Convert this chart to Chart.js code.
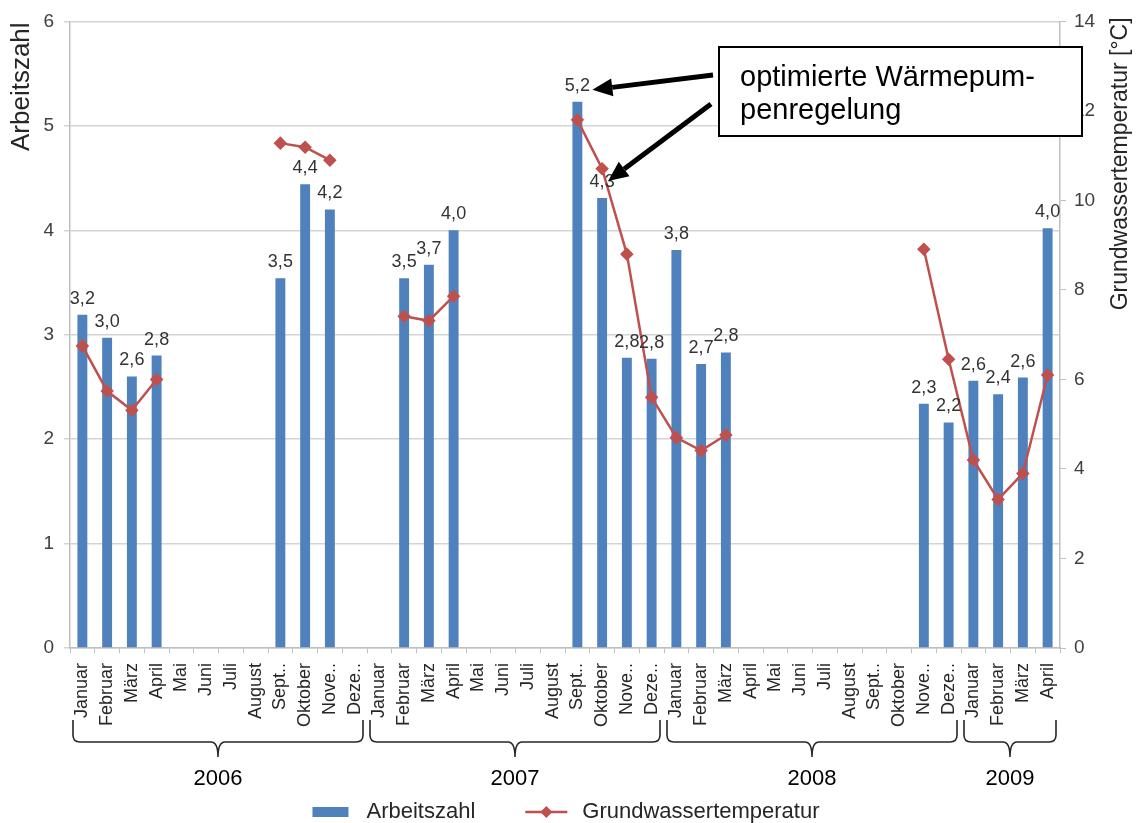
<!DOCTYPE html>
<html>
<head>
<meta charset="utf-8">
<script src="https://cdn.jsdelivr.net/npm/chart.js@4"></script>
<style>
html,body{margin:0;padding:0;background:#fff;}
canvas{display:block;}
</style>
</head>
<body>
<canvas id="c" width="1138" height="823"></canvas>
<script>
// ---- data ----
const months = ['Januar','Februar','März','April','Mai','Juni','Juli','August','Sept..','Oktober','Nove..','Deze..'];
const years = ['2006','2007','2008','2009'];
const monthsPerYear = [12,12,12,4];
const categories = [].concat(months, months, months, months.slice(0,4));

const arbeitszahl = [
  3.19, 2.97, 2.60, 2.80, null, null, null, null, 3.54, 4.44, 4.20, null,
  null, 3.54, 3.67, 4.00, null, null, null, null, 5.23, 4.31, 2.78, 2.77,
  3.81, 2.72, 2.83, null, null, null, null, null, null, null, 2.34, 2.16,
  2.56, 2.43, 2.59, 4.02
];
const grundwassertemperatur = [
  6.75, 5.74, 5.31, 6.00, null, null, null, null, 11.28, 11.19, 10.90, null,
  null, 7.41, 7.31, 7.86, null, null, null, null, 11.80, 10.71, 8.80, 5.60,
  4.70, 4.41, 4.76, null, null, null, null, null, null, null, 8.91, 6.45,
  4.20, 3.32, 3.90, 6.10
];
const leftTicks = [0,1,2,3,4,5,6];
const rightTicks = [0,2,4,6,8,10,12,14];
const seriesNames = ['Arbeitszahl','Grundwassertemperatur'];
const axisTitles = ['Arbeitszahl','Grundwassertemperatur [°C]'];
const annotationLines = ['optimierte Wärmepum-','penregelung'];
const annotatedIndices = [20, 21];

const BLUE = '#4f81bd', RED = '#c0504d';
const FONT = '"Liberation Sans", Arial, sans-serif';

function fmt(v){ return v.toFixed(1).replace('.', ','); }

function drawArrow(ctx, x0, y0, x1, y1){
  const ang = Math.atan2(y1-y0, x1-x0);
  const hl = 20, hw = 9;
  const bx = x1 - hl*Math.cos(ang), by = y1 - hl*Math.sin(ang);
  ctx.save();
  ctx.strokeStyle = '#000'; ctx.fillStyle = '#000';
  ctx.lineWidth = 5; ctx.lineCap = 'butt';
  ctx.beginPath(); ctx.moveTo(x0,y0); ctx.lineTo(bx,by); ctx.stroke();
  ctx.beginPath();
  ctx.moveTo(x1,y1);
  ctx.lineTo(bx + hw*Math.sin(ang), by - hw*Math.cos(ang));
  ctx.lineTo(bx - hw*Math.sin(ang), by + hw*Math.cos(ang));
  ctx.closePath(); ctx.fill();
  ctx.restore();
}

const extras = {
  id: 'extras',
  afterDatasetsDraw(chart){
    const ctx = chart.ctx;
    const barMeta = chart.getDatasetMeta(1);
    ctx.save();
    ctx.font = '18px ' + FONT;
    ctx.fillStyle = '#333333';
    ctx.textAlign = 'center';
    ctx.textBaseline = 'alphabetic';
    barMeta.data.forEach((el, i) => {
      const v = arbeitszahl[i];
      if (v == null) return;
      ctx.fillText(fmt(v), el.x, el.y - 11);
    });
    ctx.restore();
  },
  afterDraw(chart){
    const ctx = chart.ctx;
    const xs = chart.scales.x, yl = chart.scales.y;
    const ca = chart.chartArea;
    const W = chart.width;
    // axis titles
    ctx.save();
    ctx.fillStyle = '#262626';
    ctx.font = '26px ' + FONT;
    ctx.translate(22, ca.top + 1);
    ctx.rotate(-Math.PI/2);
    ctx.textAlign = 'right'; ctx.textBaseline = 'middle';
    ctx.fillText(axisTitles[0], 0, 0);
    ctx.restore();
    ctx.save();
    ctx.fillStyle = '#262626';
    ctx.font = '23px ' + FONT;
    ctx.translate(1121, ca.top - 4);
    ctx.rotate(-Math.PI/2);
    ctx.textAlign = 'right'; ctx.textBaseline = 'middle';
    ctx.fillText(axisTitles[1], 0, 0);
    ctx.restore();

    // year brackets
    const w = xs.getPixelForValue(1) - xs.getPixelForValue(0);
    let start = 0;
    const yTop = 720, yMid = 742, yTip = 757;
    ctx.save();
    ctx.strokeStyle = '#262626'; ctx.lineWidth = 1.6;
    ctx.fillStyle = '#000';
    ctx.font = '22px ' + FONT;
    ctx.textAlign = 'center'; ctx.textBaseline = 'middle';
    years.forEach((yr, g) => {
      const n = monthsPerYear[g];
      const left = xs.getPixelForValue(start) - w/2;
      const right = xs.getPixelForValue(start + n - 1) + w/2;
      const x0 = left + 3, x1 = right - 4, xc = (x0 + x1)/2;
      const r = 7;
      ctx.beginPath();
      ctx.moveTo(x0, yTop);
      ctx.lineTo(x0, yMid - r);
      ctx.quadraticCurveTo(x0, yMid, x0 + r, yMid);
      ctx.lineTo(xc - r, yMid);
      ctx.quadraticCurveTo(xc, yMid, xc, yTip);
      ctx.quadraticCurveTo(xc, yMid, xc + r, yMid);
      ctx.lineTo(x1 - r, yMid);
      ctx.quadraticCurveTo(x1, yMid, x1, yMid - r);
      ctx.lineTo(x1, yTop);
      ctx.stroke();
      ctx.fillText(yr, xc, 779);
      start += n;
    });
    ctx.restore();

    // legend
    ctx.save();
    ctx.font = '22px ' + FONT;
    const t1 = ctx.measureText(seriesNames[0]).width;
    const t2 = ctx.measureText(seriesNames[1]).width;
    const boxW = 36, gap1 = 18, gapItems = 50, lineW = 42, gap2 = 15;
    const total = boxW + gap1 + t1 + gapItems + lineW + gap2 + t2;
    let lx = (W - total)/2 - 3;
    const ly = 812;
    ctx.fillStyle = BLUE;
    ctx.fillRect(lx, ly - 5, boxW, 10);
    lx += boxW + gap1;
    ctx.fillStyle = '#262626';
    ctx.textBaseline = 'middle'; ctx.textAlign = 'left';
    ctx.fillText(seriesNames[0], lx, ly);
    lx += t1 + gapItems;
    ctx.strokeStyle = RED; ctx.lineWidth = 2.5;
    ctx.beginPath(); ctx.moveTo(lx, ly); ctx.lineTo(lx + lineW, ly); ctx.stroke();
    ctx.fillStyle = RED;
    const dx = lx + lineW/2, d = 6;
    ctx.beginPath(); ctx.moveTo(dx, ly - d); ctx.lineTo(dx + d, ly); ctx.lineTo(dx, ly + d); ctx.lineTo(dx - d, ly); ctx.closePath(); ctx.fill();
    lx += lineW + gap2;
    ctx.fillStyle = '#262626';
    ctx.fillText(seriesNames[1], lx, ly);
    ctx.restore();

    // annotation box
    const bx0 = 719, by0 = 47, bx1 = 1082, by1 = 136;
    ctx.save();
    ctx.fillStyle = '#fff';
    ctx.fillRect(bx0, by0, bx1 - bx0, by1 - by0);
    ctx.strokeStyle = '#000'; ctx.lineWidth = 2;
    ctx.strokeRect(bx0, by0, bx1 - bx0, by1 - by0);
    ctx.fillStyle = '#000';
    ctx.font = '29px ' + FONT;
    ctx.textAlign = 'left'; ctx.textBaseline = 'alphabetic';
    ctx.fillText(annotationLines[0], 740, 86);
    ctx.fillText(annotationLines[1], 740, 119);
    ctx.restore();

    // arrows anchored to annotated bars
    const i1 = annotatedIndices[0], i2 = annotatedIndices[1];
    const tip1x = xs.getPixelForValue(i1) + 15, tip1y = yl.getPixelForValue(arbeitszahl[i1]) - 12;
    const tip2x = xs.getPixelForValue(i2) + 6, tip2y = yl.getPixelForValue(arbeitszahl[i2]) - 17;
    drawArrow(ctx, 713, 75, tip1x, tip1y);
    drawArrow(ctx, 711, 104, tip2x, tip2y);
  }
};

new Chart(document.getElementById('c'), {
  type: 'bar',
  data: {
    labels: categories,
    datasets: [
      {
        type: 'line',
        label: seriesNames[1],
        data: grundwassertemperatur,
        yAxisID: 'y2',
        borderColor: RED,
        backgroundColor: RED,
        borderWidth: 2.5,
        pointStyle: 'rectRot',
        pointRadius: 5,
        pointBackgroundColor: RED,
        pointBorderColor: RED,
        spanGaps: false,
        tension: 0,
        order: 0
      },
      {
        type: 'bar',
        label: seriesNames[0],
        data: arbeitszahl,
        yAxisID: 'y',
        backgroundColor: BLUE,
        barPercentage: 0.4,
        categoryPercentage: 1.0,
        order: 1
      }
    ]
  },
  options: {
    responsive: false,
    animation: false,
    devicePixelRatio: 1,
    layout: { padding: { top: 21, left: 0, right: 0, bottom: 0 } },
    plugins: { legend: { display: false }, tooltip: { enabled: false } },
    scales: {
      x: {
        offset: true,
        grid: { display: true, drawOnChartArea: false, drawTicks: true, tickLength: 5, color: '#bfbfbf', offset: true },
        border: { display: true, color: '#bfbfbf', width: 1.5 },
        ticks: {
          autoSkip: false, maxRotation: 90, minRotation: 90, padding: 10,
          color: '#262626', font: { family: FONT, size: 18 }
        },
        afterFit(scale){ scale.height = 175; }
      },
      y: {
        position: 'left',
        min: 0, max: 6,
        afterBuildTicks(scale){ scale.ticks = leftTicks.map(v => ({ value: v })); },
        grid: { color: '#d4d4d4', lineWidth: 1.5, tickLength: 6 },
        border: { display: true, color: '#bfbfbf', width: 1.5 },
        ticks: { color: '#404040', font: { family: FONT, size: 19 }, padding: 10 },
        afterFit(scale){ scale.width = 70; }
      },
      y2: {
        position: 'right',
        min: 0, max: 14,
        afterBuildTicks(scale){ scale.ticks = rightTicks.map(v => ({ value: v })); },
        grid: { drawOnChartArea: false, color: '#bfbfbf', tickLength: 6 },
        border: { display: true, color: '#bfbfbf', width: 1.5 },
        ticks: { color: '#404040', font: { family: FONT, size: 19 }, padding: 8 },
        afterFit(scale){ scale.width = 78; }
      }
    }
  },
  plugins: [extras]
});
</script>
</body>
</html>
